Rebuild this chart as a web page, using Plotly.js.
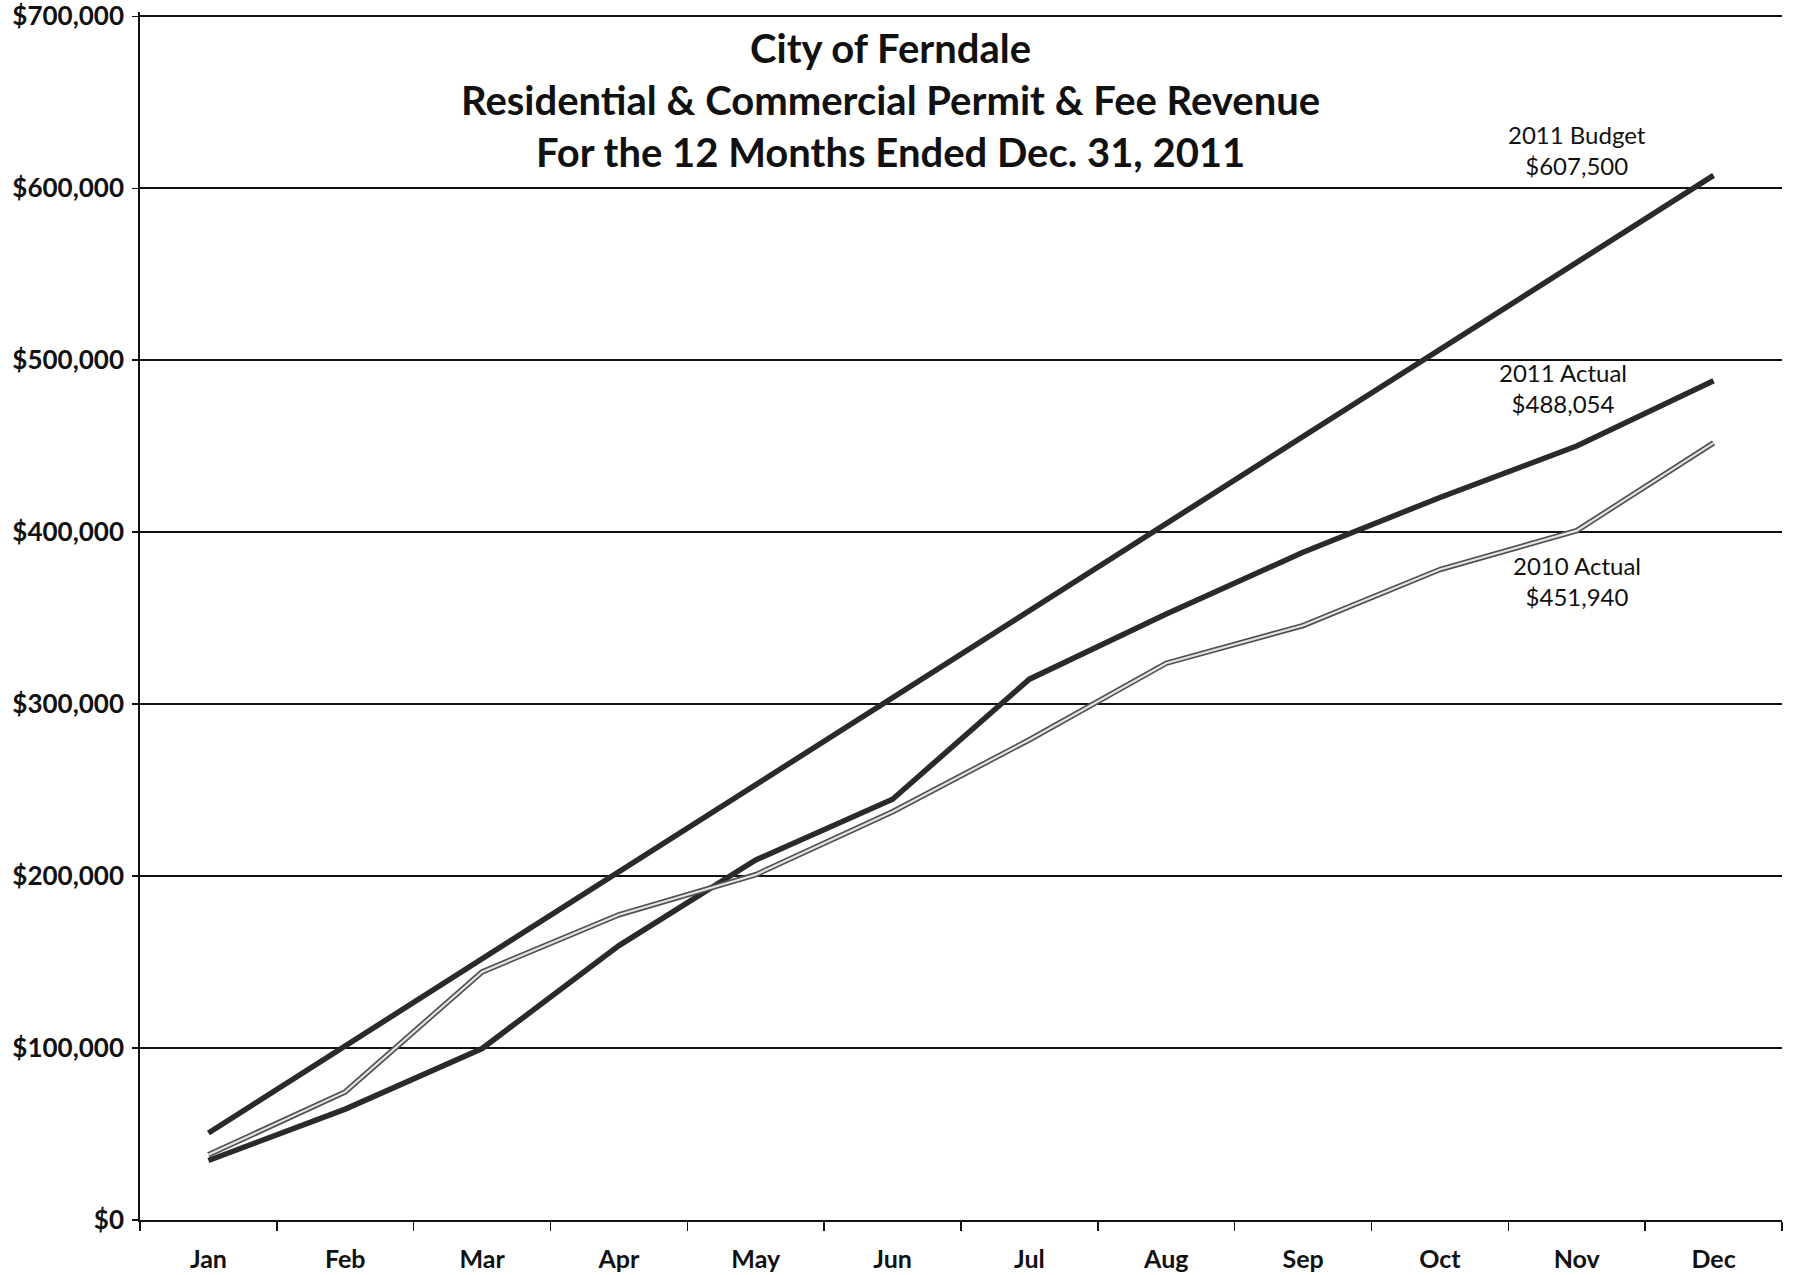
<!DOCTYPE html>
<html>
<head>
<meta charset="utf-8">
<script src="https://cdn.plot.ly/plotly-3.0.1.min.js"></script>
<style>
  html, body { margin: 0; padding: 0; background: #fff; }
  #chart { width: 1797px; height: 1275px; }
</style>
</head>
<body>
<div id="chart"></div>
<script>
// Months on the x axis
const months = ['Jan', 'Feb', 'Mar', 'Apr', 'May', 'Jun', 'Jul', 'Aug', 'Sep', 'Oct', 'Nov', 'Dec'];

// Cumulative revenue
const budget2011 = [50625, 101250, 151875, 202500, 253125, 303750, 354375, 405000, 455625, 506250, 556875, 607500];
const actual2011 = [34600, 64500, 99700, 159600, 209400, 244700, 314500, 352400, 388300, 420200, 450100, 488054];
const actual2010 = [37900, 74500, 144300, 177500, 200800, 237400, 279300, 323800, 345700, 378300, 400900, 451940];

// Y axis ticks
const yTickVals = [0, 100000, 200000, 300000, 400000, 500000, 600000, 700000];
const yTickText = ['$0', '$100,000', '$200,000', '$300,000', '$400,000', '$500,000', '$600,000', '$700,000'];

// End-of-line labels
const seriesNames = ['2011 Budget', '2011 Actual', '2010 Actual'];
const seriesTotals = ['$607,500', '$488,054', '$451,940'];

const font = 'Lato, "Open Sans", sans-serif';

const traces = [
    {
        x: months, y: budget2011, type: 'scatter', mode: 'lines',
        line: { color: '#2a2a2a', width: 5.5 }, hoverinfo: 'skip'
    },
    {
        x: months, y: actual2011, type: 'scatter', mode: 'lines',
        line: { color: '#2a2a2a', width: 5.5 }, hoverinfo: 'skip'
    },
    // 2010 drawn as a hollow line: dark edge with light core
    {
        x: months, y: actual2010, type: 'scatter', mode: 'lines',
        line: { color: '#505050', width: 5.5 }, hoverinfo: 'skip'
    },
    {
        x: months, y: actual2010, type: 'scatter', mode: 'lines',
        line: { color: '#e2e2e2', width: 2.2 }, hoverinfo: 'skip'
    }
];

// label positions (data coords) and small horizontal nudges
const labelX = ['Nov', 'Nov', 'Nov'];
const labelY = [622000, 484000, 371500];
const labelShift = [0, -14, 0];

const annotations = seriesNames.map((name, i) => ({
    x: labelX[i], y: labelY[i], xref: 'x', yref: 'y',
    xshift: labelShift[i],
    text: name + '<br>' + seriesTotals[i],
    showarrow: false,
    font: { family: font, size: 24, color: '#111' },
    align: 'center'
}));

// chart title as an annotation so the three lines sit where the original has them
annotations.push({
    x: 0.457, y: 0.927, xref: 'paper', yref: 'paper',
    xanchor: 'center', yanchor: 'middle',
    text: '<b>City of Ferndale<br>Residential &amp; Commercial Permit &amp; Fee Revenue<br>For the 12 Months Ended Dec. 31, 2011</b>',
    showarrow: false,
    font: { family: font, size: 40, color: '#111' },
    align: 'center'
});

const layout = {
    width: 1797,
    height: 1275,
    margin: { l: 140, r: 15, t: 12, b: 55 },
    paper_bgcolor: '#fff',
    plot_bgcolor: '#fff',
    showlegend: false,
    xaxis: {
        type: 'category',
        range: [-0.5, 11.5],
        tickson: 'boundaries',
        ticks: 'outside',
        ticklen: 9,
        tickwidth: 1.5,
        tickcolor: '#111',
        showline: true,
        linecolor: '#111',
        linewidth: 1.8,
        showgrid: false,
        zeroline: false,
        tickfont: { family: font, size: 25, color: '#111', weight: 'bold' },
        ticklabelstandoff: 16
    },
    yaxis: {
        range: [0, 702500],
        tickmode: 'array',
        tickvals: yTickVals,
        ticktext: yTickText,
        ticks: 'outside',
        ticklen: 6,
        tickwidth: 1.5,
        tickcolor: '#111',
        showline: true,
        linecolor: '#111',
        linewidth: 1.8,
        showgrid: true,
        gridcolor: '#111',
        gridwidth: 1.8,
        zeroline: false,
        ticklabeloverflow: 'allow',
        tickfont: { family: font, size: 26, color: '#111', weight: 'bold' },
        ticklabelstandoff: 3
    },
    annotations: annotations
};

Plotly.newPlot('chart', traces, layout, { staticPlot: true });
</script>
</body>
</html>
